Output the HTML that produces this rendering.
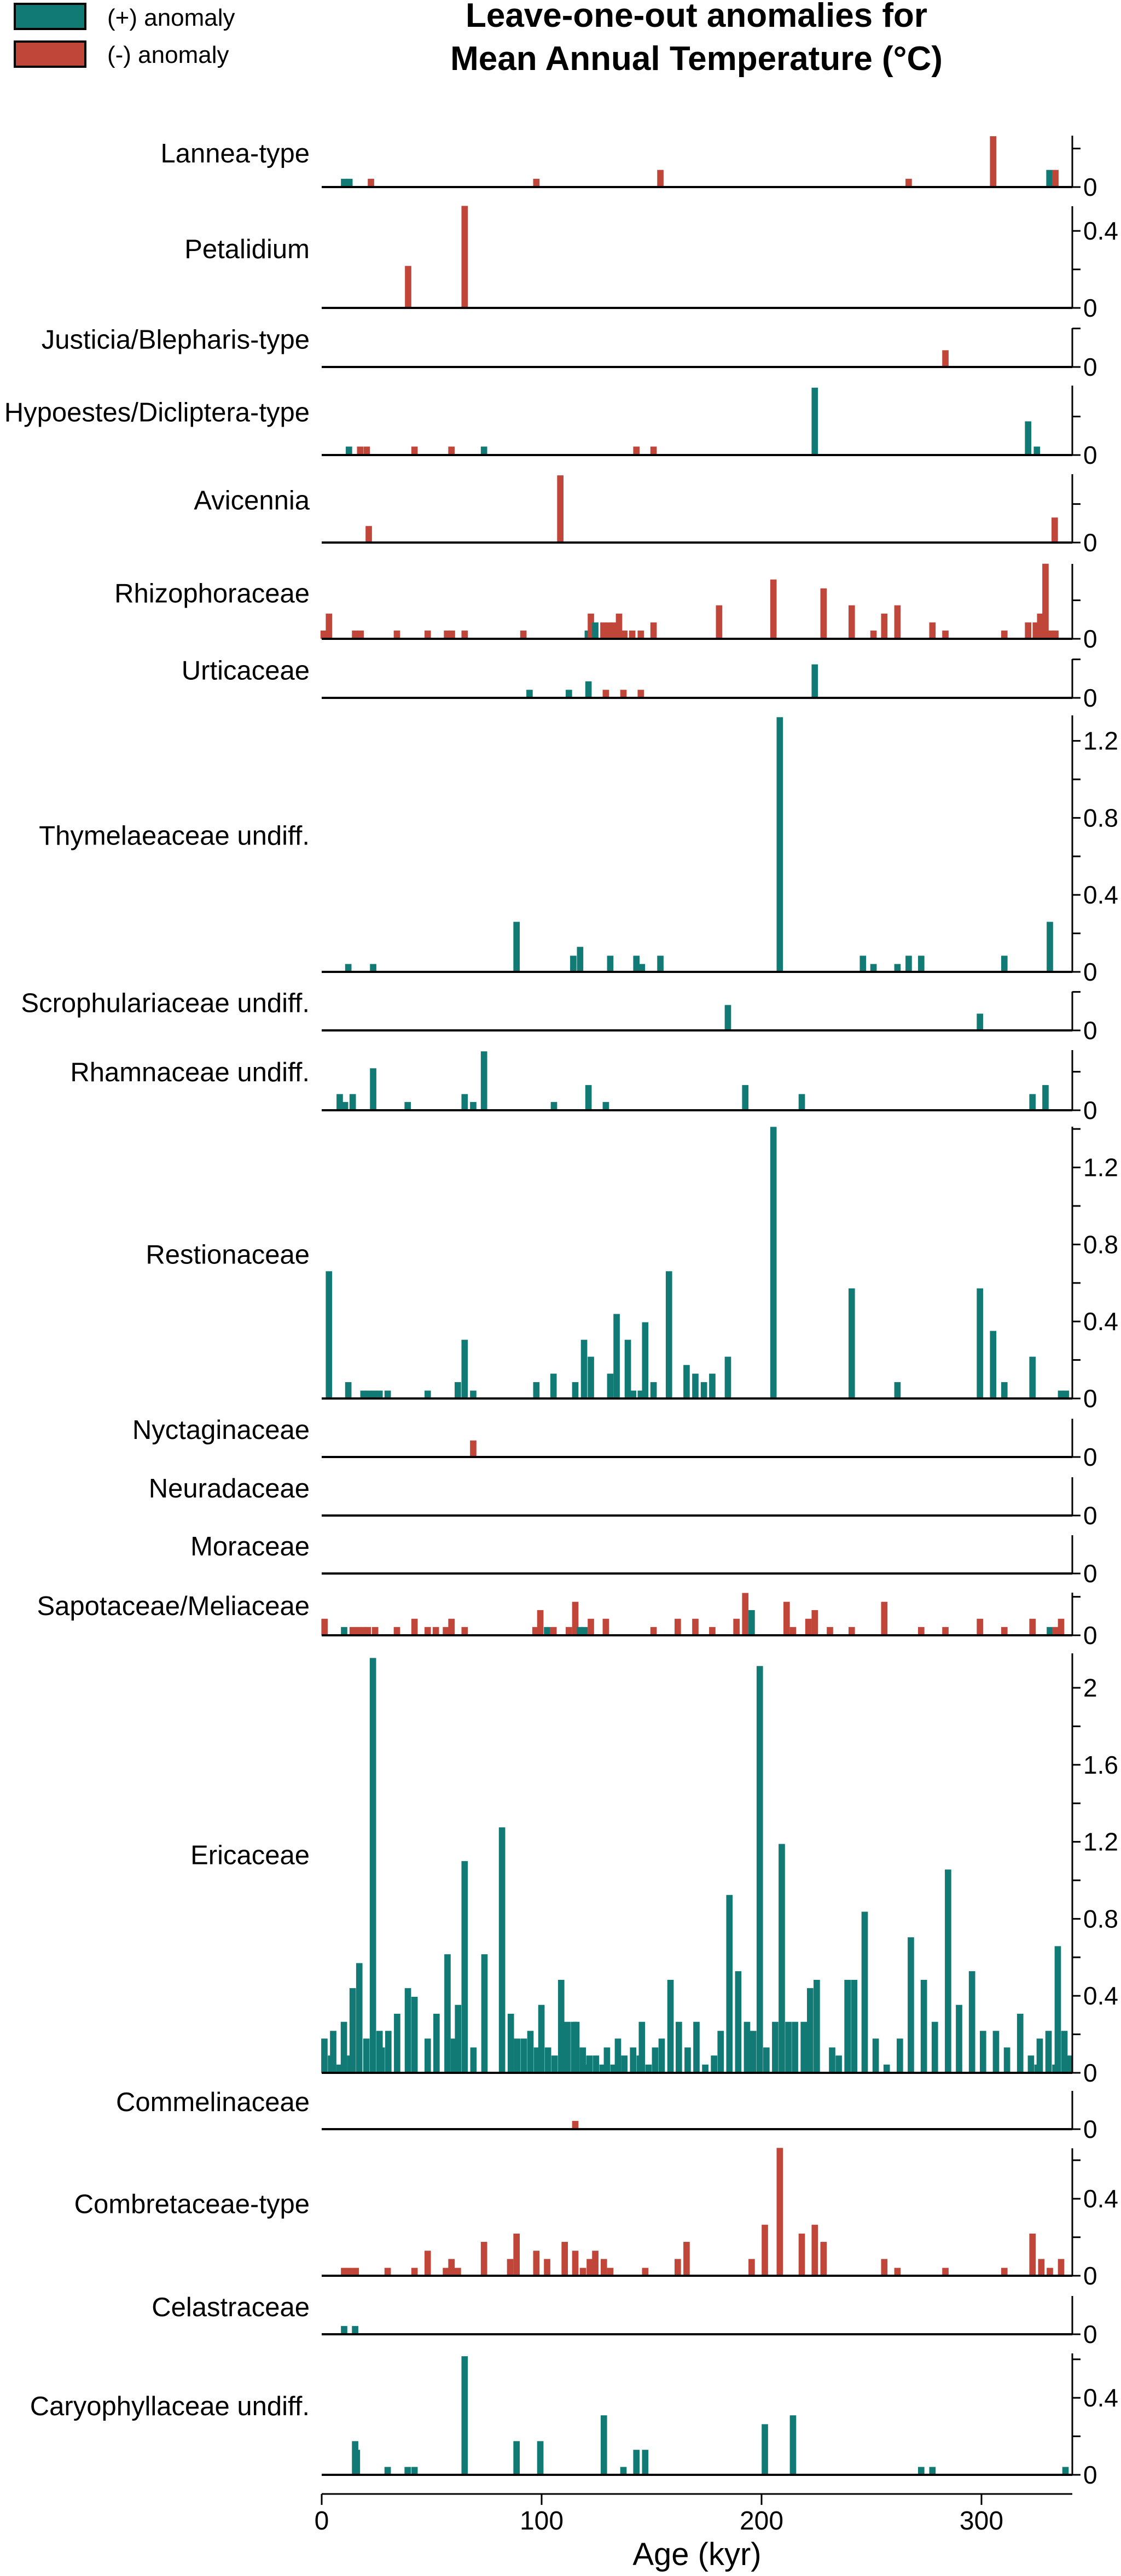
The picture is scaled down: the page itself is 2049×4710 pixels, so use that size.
<!DOCTYPE html>
<html><head><meta charset="utf-8"><title>Leave-one-out anomalies</title>
<style>
html,body{margin:0;padding:0;background:#fff;}
svg{display:block;font-family:"Liberation Sans",Arial,sans-serif;}
</style></head>
<body>
<svg id="chart" xmlns="http://www.w3.org/2000/svg" width="2049" height="4710" viewBox="0 0 2049 4710">
  <rect x="0" y="0" width="2049" height="4710" fill="#fff"/>
  <g>
    <rect x="27" y="7" width="129" height="46" fill="#127a75" stroke="#000" stroke-width="4"/>
    <text x="196" y="47" font-size="44">(+) anomaly</text>
    <rect x="27" y="76" width="129" height="46" fill="#c0463a" stroke="#000" stroke-width="4"/>
    <text x="196" y="115" font-size="44">(-) anomaly</text>
  </g>
  <g>
    <text x="1273" y="49" font-size="62" font-weight="bold" text-anchor="middle">Leave-one-out anomalies for</text>
    <text x="1273" y="128" font-size="62" font-weight="bold" text-anchor="middle">Mean Annual Temperature (°C)</text>
  </g>
  <g id="panels"></g>
  <g id="xaxis"></g>
</svg>
<script>
// ---- data (ages in kyr, signed anomaly in °C: + teal, - red) ----
const taxa = ["Lannea-type","Petalidium","Justicia/Blepharis-type","Hypoestes/Dicliptera-type","Avicennia","Rhizophoraceae","Urticaceae","Thymelaeaceae undiff.","Scrophulariaceae undiff.","Rhamnaceae undiff.","Restionaceae","Nyctaginaceae","Neuradaceae","Moraceae","Sapotaceae/Meliaceae","Ericaceae","Commelinaceae","Combretaceae-type","Celastraceae","Caryophyllaceae undiff."];
const xTickValues = [0,100,200,300];
const xTickLabels = ["0","100","200","300"];

const lanneaAges = [10.2,12.6,22.4,97.6,154,266.9,305.3,330.9,333.6];
const lanneaVals = [0.043,0.043,-0.043,-0.043,-0.089,-0.043,-0.264,0.089,-0.089];
const petalidiumAges = [39.3,65];
const petalidiumVals = [-0.218,-0.53];
const justiciaAges = [283.6];
const justiciaVals = [-0.087];
const hypoestesAges = [12.4,17.5,20.5,42.2,59,73.8,143.1,150.9,224.2,321.2,325.2];
const hypoestesVals = [0.044,-0.044,-0.044,-0.044,-0.044,0.044,-0.044,-0.044,0.35,0.175,0.044];
const avicenniaAges = [21.4,108.5,333.3];
const avicenniaVals = [-0.086,-0.349,-0.13];
const rhizoAges = [0.9,3.3,15.2,17.7,34.2,48.2,57,59.2,65,91.7,121,122.4,124.4,128.1,130.6,132.5,135.2,137.6,141.2,145.1,150.9,180.7,205.4,228.2,241,250.9,255.8,261.8,277.7,283.6,310.4,321.2,324.7,326.7,329.1,331.9,333.6];
const rhizoVals = [-0.043,-0.131,-0.043,-0.043,-0.043,-0.043,-0.043,-0.043,-0.043,-0.043,0.043,-0.131,0.085,-0.085,-0.085,-0.085,-0.131,-0.043,-0.043,-0.043,-0.085,-0.174,-0.308,-0.262,-0.174,-0.043,-0.131,-0.174,-0.085,-0.043,-0.043,-0.085,-0.085,-0.131,-0.39,-0.043,-0.043];
const urticAges = [94.5,112.4,121.3,129.2,137.2,145.1,224.2];
const urticVals = [0.042,0.042,0.086,-0.042,-0.042,-0.042,0.174];
const thymAges = [12.1,23.4,88.6,114.4,117.5,131.2,143.1,145.6,154,208.3,246.1,250.9,261.8,266.9,272.6,310.4,331.1];
const thymVals = [0.041,0.041,0.26,0.084,0.13,0.084,0.084,0.041,0.084,1.323,0.084,0.041,0.041,0.084,0.084,0.084,0.26];
const scrophAges = [184.7,299.3];
const scrophVals = [0.132,0.087];
const rhamnAges = [8.2,10.6,14.1,23.4,39.1,65,68.9,73.8,105.6,121.3,129.2,192.6,218.3,323.2,329.1];
const rhamnVals = [0.084,0.043,0.084,0.218,0.043,0.084,0.043,0.306,0.043,0.131,0.043,0.131,0.084,0.084,0.131];
const restionAges = [3.3,12.1,19,21.4,23.9,26.3,30,48.2,61.9,65,68.9,97.6,105.4,115.3,119.3,122.4,131.2,134.1,139.2,141.6,145.1,147.1,150.9,157.9,165.9,169.9,173.8,177.6,184.7,205.4,241,261.8,299.3,305.3,310.4,323.2,336.2,338.4];
const restionVals = [0.661,0.085,0.041,0.041,0.041,0.041,0.041,0.041,0.085,0.305,0.041,0.085,0.129,0.085,0.305,0.217,0.129,0.439,0.305,0.041,0.041,0.396,0.085,0.661,0.174,0.129,0.085,0.129,0.217,1.411,0.572,0.085,0.572,0.351,0.085,0.217,0.041,0.041];
const nyctAges = [68.9];
const nyctVals = [-0.086];
const neuradAges = [];
const neuradVals = [];
const moraAges = [];
const moraVals = [];
const sapotAges = [1.3,10.2,14.1,16.6,19,21,24.3,34.2,42.2,48.2,51.9,56.5,59,65,97.2,99.4,102.5,105.4,112.4,115.3,117.5,119.5,122.4,129.2,150.9,161.9,169.9,177.6,188.6,192.6,195.5,211.4,214.3,221.3,224.2,231.1,241,255.8,272.6,283.6,299.3,310.4,323.2,331.1,333.6,336.2];
const sapotVals = [-0.086,0.043,-0.043,-0.043,-0.043,-0.043,-0.043,-0.043,-0.086,-0.043,-0.043,-0.043,-0.086,-0.043,-0.043,-0.131,0.043,-0.043,-0.043,-0.174,0.043,0.043,-0.086,-0.086,-0.043,-0.086,-0.086,-0.043,-0.086,-0.22,0.131,-0.174,-0.043,-0.086,-0.131,-0.043,-0.043,-0.174,-0.043,-0.043,-0.086,-0.043,-0.086,0.043,-0.043,-0.086];
const ericaAges = [1.23,4.23,5.23,8.11,10.1,13.0,14.1,17.1,20.3,23.3,26.3,27.3,30.3,34.3,39.2,42.2,48.2,52.2,57.2,60.1,62.0,65.0,69.0,74.0,82.0,86.0,88.9,91.9,94.9,97.9,99.9,102.9,105.9,108.9,111.7,114.7,115.8,118.7,120.7,121.7,124.7,127.7,129.7,132.7,134.7,137.6,141.6,144.6,145.6,148.6,151.6,154.6,158.6,162.4,166.4,170.4,174.4,178.4,181.4,185.4,189.4,193.4,196.2,199.2,202.2,206.2,209.2,212.2,215.2,219.2,222.1,225.1,232.1,235.1,239.1,242.1,246.9,251.9,256.9,262.9,267.9,273.8,278.8,284.8,289.8,295.7,300.7,306.6,311.6,317.6,322.5,325.5,326.5,330.5,333.6,334.7,337.7,339.6];
const ericaVals = [0.178,0.09,0.218,0.043,0.265,0.09,0.44,0.57,0.178,2.155,0.218,0.132,0.218,0.307,0.44,0.395,0.178,0.307,0.616,0.178,0.353,1.10,0.132,0.616,1.275,0.307,0.178,0.178,0.218,0.132,0.353,0.132,0.09,0.483,0.265,0.265,0.265,0.132,0.043,0.09,0.09,0.043,0.132,0.043,0.178,0.09,0.132,0.09,0.265,0.043,0.132,0.178,0.483,0.265,0.132,0.265,0.043,0.09,0.218,0.924,0.528,0.265,0.218,2.113,0.132,0.265,1.189,0.265,0.265,0.265,0.44,0.483,0.132,0.09,0.483,0.483,0.837,0.178,0.043,0.178,0.704,0.483,0.265,1.056,0.353,0.528,0.218,0.218,0.132,0.307,0.09,0.043,0.178,0.218,0.043,0.658,0.218,0.09];
const commelAges = [115.3];
const commelVals = [-0.043];
const combretAges = [10.2,12.6,15.5,30,42.2,48.2,56.5,59,61.9,73.8,85.7,88.6,97.6,102.5,110.5,115.3,118.8,121.9,124.4,128.3,131.2,147.1,161.9,165.9,195.5,201.5,208.3,218.3,224.2,228.2,255.8,261.8,283.6,310.4,323.2,327.2,331.1,336.2];
const combretVals = [-0.041,-0.041,-0.041,-0.041,-0.041,-0.13,-0.041,-0.087,-0.041,-0.176,-0.087,-0.219,-0.13,-0.087,-0.176,-0.13,-0.041,-0.087,-0.13,-0.087,-0.041,-0.041,-0.087,-0.176,-0.087,-0.265,-0.664,-0.219,-0.265,-0.176,-0.087,-0.041,-0.041,-0.041,-0.219,-0.087,-0.041,-0.087];
const celasAges = [10.2,15.2];
const celasVals = [0.043,0.043];
const caryoAges = [15.2,16.0,30,39.1,42.2,65,88.6,99.4,128.3,137.2,143.1,147.1,201.5,214.3,272.6,277.7,338.2];
const caryoVals = [0.175,0.13,0.041,0.041,0.041,0.616,0.175,0.175,0.309,0.041,0.13,0.13,0.263,0.309,0.041,0.041,0.041];

const seriesAges = [lanneaAges,petalidiumAges,justiciaAges,hypoestesAges,avicenniaAges,rhizoAges,urticAges,thymAges,scrophAges,rhamnAges,restionAges,nyctAges,neuradAges,moraAges,sapotAges,ericaAges,commelAges,combretAges,celasAges,caryoAges];
const seriesVals = [lanneaVals,petalidiumVals,justiciaVals,hypoestesVals,avicenniaVals,rhizoVals,urticVals,thymVals,scrophVals,rhamnVals,restionVals,nyctVals,neuradVals,moraVals,sapotVals,ericaVals,commelVals,combretVals,celasVals,caryoVals];

// ---- layout (pixels) ----
const panelTops  = [248,377,600,705,867,1031,1205,1308,1813,1920,2060,2594,2701,2807,2912,3023,3823,3928,4198,4303];
const panelBases = [342,563,671,832,992,1168,1276,1777,1884,2030,2557,2664,2771,2877,2990,3790,3893,4161,4268,4525];
const X0 = 588, X1 = 1960, XMAX = 341.3, PX_PER_UNIT = 352, BAR_W = 2.9;
const TEAL = "#127a75", RED = "#c0463a";
const NS = "http://www.w3.org/2000/svg";

function xScale(a){ return X0 + (a / XMAX) * (X1 - X0); }
function yScale(v, base){ return base - v * PX_PER_UNIT; }
function mk(tag, attrs){ const e = document.createElementNS(NS, tag); for (const k in attrs) e.setAttribute(k, attrs[k]); return e; }
function slug(s){ return s.toLowerCase().replace(/[^a-z0-9]+/g,'-').replace(/^-|-$/g,''); }

const panelsG = document.getElementById('panels');
taxa.forEach((name, i) => {
  const top = panelTops[i], base = panelBases[i], s = slug(name);
  const g = mk('g', {});
  
  
  panelsG.appendChild(g);

  const lab = mk('text', {x: 566, y: (top + base) / 2 - 14, 'font-size': 49, 'text-anchor': 'end', 'dominant-baseline': 'central'});
  lab.textContent = name;
  
  
  g.appendChild(lab);

  const ages = seriesAges[i], vals = seriesVals[i];
  for (let j = 0; j < ages.length; j++) {
    const v = vals[j];
    const xl = xScale(ages[j] - BAR_W / 2), xr = xScale(ages[j] + BAR_W / 2);
    const yt = yScale(Math.abs(v), base);
    const r = mk('rect', {x: xl.toFixed(2), y: yt.toFixed(2), width: (xr - xl).toFixed(2), height: (base - yt).toFixed(2), fill: v >= 0 ? TEAL : RED});
    
    
    g.appendChild(r);
  }

  const bl = mk('line', {x1: X0, x2: X1, y1: base, y2: base, stroke: '#000', 'stroke-width': 4});
  
  
  g.appendChild(bl);

  const sp = mk('line', {x1: X1, x2: X1, y1: top, y2: base + 1.5, stroke: '#000', 'stroke-width': 3});
  
  
  g.appendChild(sp);

  const maxV = (base - top) / PX_PER_UNIT;
  for (let k = 0; k * 0.2 <= maxV + 1e-6; k++) {
    const v = k * 0.2, y = yScale(v, base);
    const t = mk('line', {x1: X1, x2: X1 + 15, y1: y, y2: y, stroke: '#000', 'stroke-width': 3});
    
    
    g.appendChild(t);
    if (k % 2 === 0) {
      const lbl = (k === 0) ? '0' : (Math.round(v * 10) / 10).toString();
      const tl = mk('text', {x: X1 + 20, y: y, 'font-size': 46, 'dominant-baseline': 'central'});
      tl.textContent = lbl;
      
      
      g.appendChild(tl);
    }
  }
});

const xg = document.getElementById('xaxis');


const xl = mk('line', {x1: X0, x2: X1, y1: 4560, y2: 4560, stroke: '#000', 'stroke-width': 3});


xg.appendChild(xl);
xTickValues.forEach((v, i) => {
  const x = xScale(v);
  const t = mk('line', {x1: x, x2: x, y1: 4560, y2: 4580, stroke: '#000', 'stroke-width': 3});
  
  
  xg.appendChild(t);
  const tl = mk('text', {x: x, y: 4625, 'font-size': 48, 'text-anchor': 'middle'});
  tl.textContent = xTickLabels[i];
  
  
  xg.appendChild(tl);
});
const xt = mk('text', {x: (X0 + X1) / 2, y: 4690, 'font-size': 58, 'text-anchor': 'middle'});
xt.textContent = 'Age (kyr)';


xg.appendChild(xt);
</script>
</body></html>
